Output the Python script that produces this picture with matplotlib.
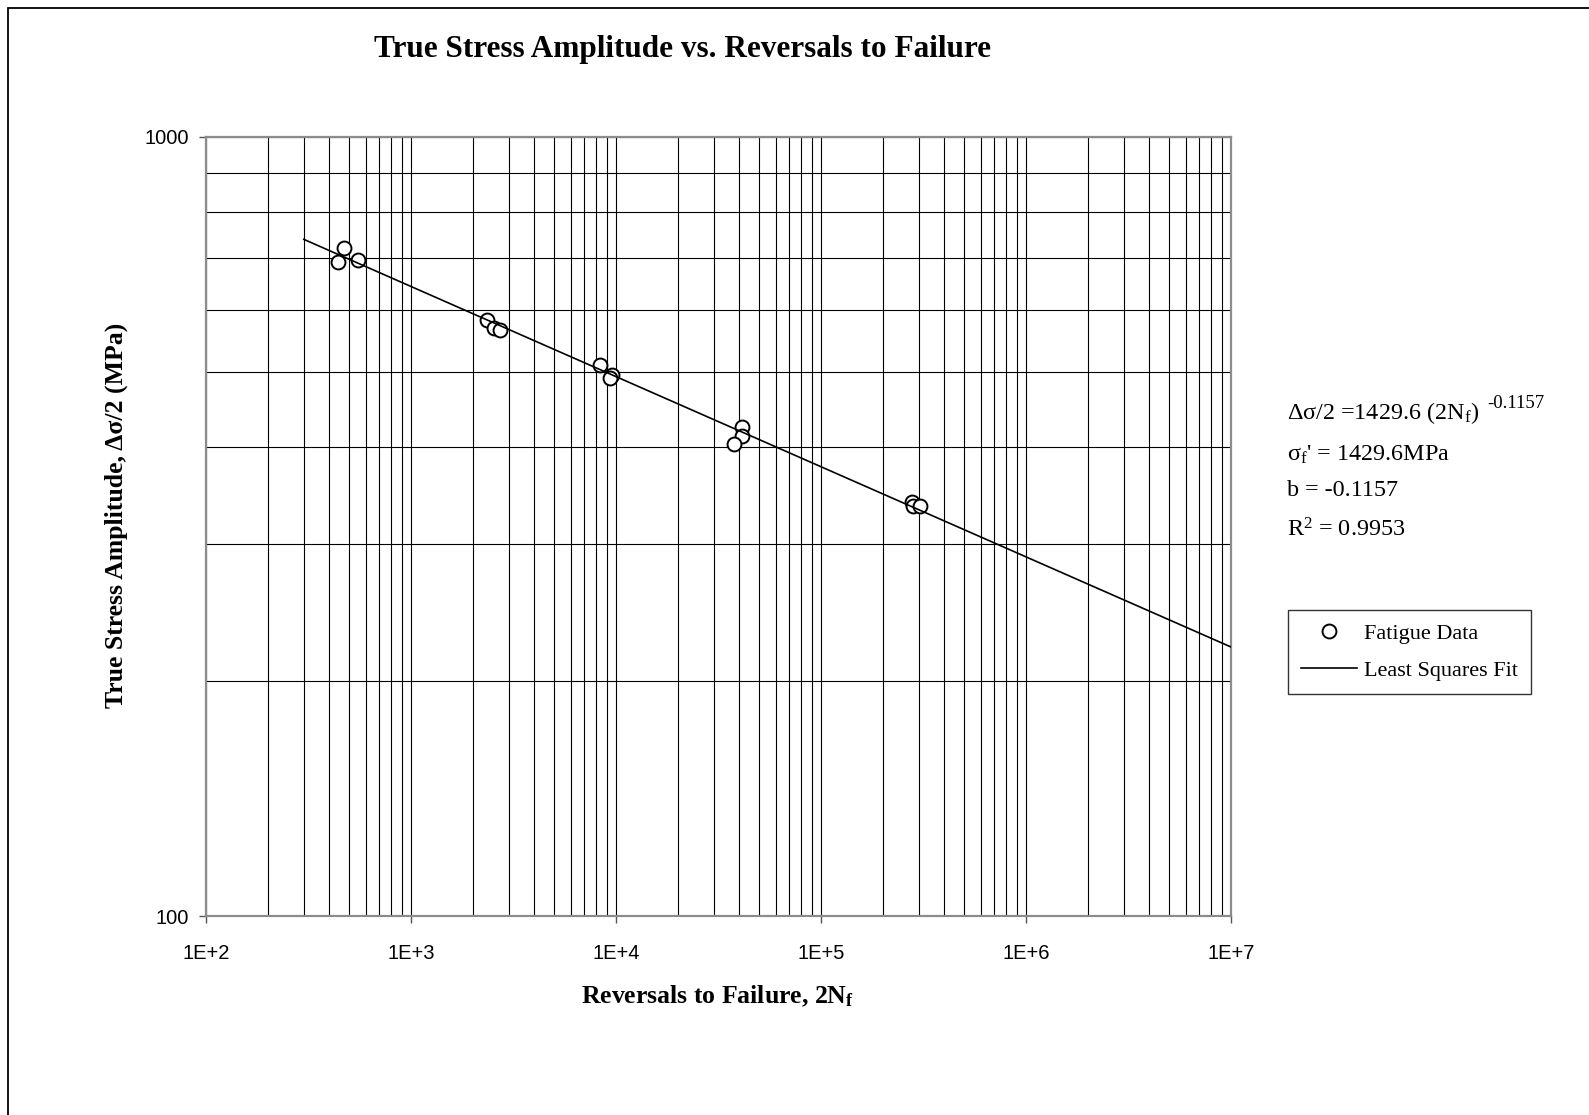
import numpy as np
import matplotlib
matplotlib.use("Agg")
import matplotlib.pyplot as plt
from matplotlib.ticker import LogLocator, FuncFormatter, NullFormatter
from matplotlib.patches import Rectangle

# fatigue test data
reversals = [442, 473, 553, 2340, 2540, 2718, 8380, 9590, 9380,
             41300, 41300, 37650, 2.77e5, 2.81e5, 3.05e5]
stress_amp = [691, 721, 695, 583, 569, 565, 510, 495, 490,
              424, 413, 404, 340, 336, 336]

# Basquin fit from the annotation
sigma_f = 1429.6
b_exp = -0.1157
r_squared = 0.9953
fit_range = [300, 1e7]

plt.rcParams["mathtext.fontset"] = "custom"
plt.rcParams["mathtext.rm"] = "Liberation Serif"
plt.rcParams["mathtext.it"] = "Liberation Serif"
plt.rcParams["mathtext.bf"] = "Liberation Serif:bold"

W, H = 1589, 1115
fig = plt.figure(figsize=(W / 100, H / 100), dpi=100)


def fx(px):
    return px / W


def fy(py):
    return 1 - py / H


ax = fig.add_axes([fx(206), fy(916), fx(1231) - fx(206), fy(137) - fy(916)])

x_fit = np.array(fit_range)
y_fit = sigma_f * x_fit ** b_exp

ax.plot(reversals, stress_amp, "o", ms=10, mfc="white", mec="black",
        mew=1.4, label="Fatigue Data", zorder=3)
ax.plot(x_fit, y_fit, "-", color="black", lw=1.2, label="Least Squares Fit",
        zorder=4)

ax.set_xscale("log")
ax.set_yscale("log")
ax.set_xlim(1e2, 1e7)
ax.set_ylim(100, 1000)

ax.xaxis.set_major_locator(LogLocator(base=10, numticks=10))
ax.xaxis.set_minor_locator(LogLocator(base=10, subs=np.arange(2, 10), numticks=20))
ax.yaxis.set_major_locator(LogLocator(base=10, numticks=10))
ax.yaxis.set_minor_locator(LogLocator(base=10, subs=np.arange(2, 10), numticks=20))
ax.xaxis.set_major_formatter(FuncFormatter(lambda v, p: "1E+%d" % round(np.log10(v))))
ax.yaxis.set_major_formatter(FuncFormatter(lambda v, p: "%d" % round(v)))
ax.xaxis.set_minor_formatter(NullFormatter())
ax.yaxis.set_minor_formatter(NullFormatter())

ax.grid(True, which="both", color="black", lw=0.8, zorder=1)
ax.tick_params(which="major", direction="out", length=5, width=1,
               color="#555555", labelsize=14.5)
ax.tick_params(axis="x", which="major", pad=15)
ax.tick_params(axis="y", which="major", pad=7)
ax.tick_params(which="minor", length=0)
for lab in ax.get_xticklabels() + ax.get_yticklabels():
    lab.set_fontfamily("Liberation Sans")
for sp in ax.spines.values():
    sp.set_color("#8c8c8c")
    sp.set_linewidth(1.6)

serif = "Liberation Serif"
fig.text(fx(683), fy(49), "True Stress Amplitude vs. Reversals to Failure",
         ha="center", va="center", fontsize=22.5, fontweight="bold", family=serif)
fig.text(fx(116), fy(515), "True Stress Amplitude, \u0394\u03c3/2 (MPa)",
         ha="center", va="center", rotation=90, fontsize=18.5,
         fontweight="bold", family=serif)
fig.text(fx(717), fy(996), r"Reversals to Failure, 2N$_\mathbf{f}$",
         ha="center", va="center", fontsize=18.5, fontweight="bold", family=serif)

# fit annotation
fig.text(fx(1287), fy(413), "\u0394\u03c3/2 =%.1f (2N$_\\mathrm{f}$)" % sigma_f,
         ha="left", va="center", fontsize=17.4, family=serif)
fig.text(fx(1487), fy(403), "%.4f" % b_exp, ha="left", va="center",
         fontsize=13.5, family=serif)
fig.text(fx(1287), fy(455), "\u03c3$_\\mathrm{f}$' = %.1fMPa" % sigma_f,
         ha="left", va="center", fontsize=17.4, family=serif)
fig.text(fx(1287), fy(491), "b = %.4f" % b_exp,
         ha="left", va="center", fontsize=17.4, family=serif)
fig.text(fx(1287), fy(530), "R$^2$ = %.4f" % r_squared,
         ha="left", va="center", fontsize=17.4, family=serif)

leg = ax.legend(loc="upper left", bbox_to_anchor=(fx(1288), fy(610)),
                bbox_transform=fig.transFigure, frameon=True, fancybox=False,
                borderaxespad=0, borderpad=0.6, handlelength=2.5,
                handletextpad=0.3, labelspacing=0.75,
                prop={"family": serif, "size": 16})
leg.get_frame().set_edgecolor("black")
leg.get_frame().set_linewidth(1.0)

# outer chart border (only the left and top edges are visible)
fig.add_artist(Rectangle((fx(8), fy(1200)), 2.0, fy(8) - fy(1200),
                         transform=fig.transFigure, fill=False,
                         edgecolor="black", lw=1.3))

fig.savefig("out.png", dpi=100)
